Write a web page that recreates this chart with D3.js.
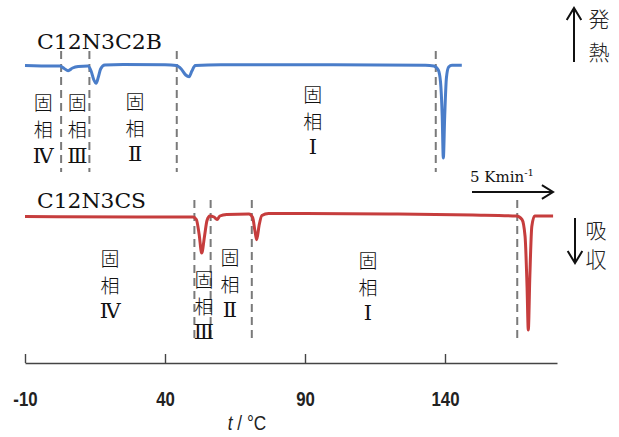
<!DOCTYPE html>
<html>
<head>
<meta charset="utf-8">
<script src="https://cdn.jsdelivr.net/npm/d3@7"></script>
<style>
  body { margin: 0; background: #fff; }
  svg { display: block; }
</style>
</head>
<body>
<svg id="chart"></svg>
<script>
const CHART_SIZE = { width: 619, height: 437 };

// DSC traces: temperature (°C) and heat flow (arb., endo down)
const blueTemps = [-10, 0, 2.5, 4, 5.4, 7, 9, 12.5, 13.6, 14.6, 15.4, 16.2, 17, 18.5, 25, 40, 44, 45.8, 47.4, 48.6, 49.6, 50.8, 60, 100, 133, 136, 137.6, 138.4, 139, 139.4, 139.9, 140.5, 141.3, 142.5, 146];
const blueFlow = [0.05, 0, 0, -0.25, -0.47, -0.2, -0.05, 0, -0.5, -1.4, -1.73, -1.1, -0.3, 0.1, 0.15, 0.12, 0.05, -0.3, -0.9, -1.07, -0.5, 0.05, 0.12, 0.12, 0.08, 0.0, -0.4, -1.6, -5, -9.2, -5, -1.2, -0.1, 0.08, 0.08];

const redTemps = [-10, 30, 50, 51.2, 52.2, 53.1, 54.1, 55, 56, 57.5, 58.6, 59.6, 62, 70, 71.3, 72.1, 72.75, 73.6, 74.6, 77, 90, 120, 150, 165.5, 167.5, 168.6, 169.3, 169.75, 170.3, 171, 172, 174, 178.6];
const redFlow = [0, -0.05, -0.05, -0.3, -1.8, -3.66, -2, -0.4, 0.05, -0.05, -0.3, 0.05, 0.2, 0.25, -0.1, -1.4, -2.33, -0.9, 0.1, 0.3, 0.3, 0.25, 0.15, 0.05, -0.3, -2, -7, -11.35, -6, -1, 0.05, 0.05, 0.05];

// phase transition boundaries (°C)
const blueBounds = [2.9, 13, 44.2, 136.7];
const redBounds = [50.5, 56.3, 71, 165.8];

// phase labels: numeral, temperature of the label, heat-flow level of its top
const blueLabelNums = ["Ⅳ", "Ⅲ", "Ⅱ", "Ⅰ"];
const blueLabelTemps = [-3.5, 8.7, 29.3, 92.8];
const blueLabelLevels = [-3.57, -3.57, -3.4, -2.73];
const redLabelNums = ["Ⅳ", "Ⅲ", "Ⅱ", "Ⅰ"];
const redLabelTemps = [20.4, 53.9, 63.2, 112.5];
const redLabelLevels = [-4.08, -6.18, -3.95, -4.25];

const xTicks = [-10, 40, 90, 140];

const BLUE = "#4a7dc9";
const RED = "#c63d3d";
const SERIF = "'DejaVu Serif', 'Liberation Serif', serif";
const CJK = "'Noto Sans CJK JP', sans-serif";
const SANS = "'Liberation Sans', Arial, sans-serif";

const svg = d3.select("#chart")
  .attr("width", CHART_SIZE.width)
  .attr("height", CHART_SIZE.height);

const x = d3.scaleLinear().domain([-10, 180]).range([25, 557]);
const yBlue = d3.scaleLinear().domain([0, -10]).range([66, 166]);
const yRed = d3.scaleLinear().domain([0, -10]).range([216.5, 316.5]);

// x axis with ticks pointing up
const xAxis = d3.axisBottom(x)
  .tickValues(xTicks)
  .tickSizeInner(-9)
  .tickSizeOuter(0)
  .tickFormat(d => String(d));

const axisG = svg.append("g")
  .attr("transform", "translate(0,363)")
  .call(xAxis);

axisG.select(".domain").attr("stroke", "#444").attr("stroke-width", 1.6);
axisG.selectAll(".tick line").attr("stroke", "#444").attr("stroke-width", 1.4);
// narrow look: squeeze the labels horizontally
axisG.selectAll(".tick text")
  .attr("y", 43)
  .attr("dy", 0)
  .attr("transform", "scale(0.8,1)")
  .attr("fill", "#222")
  .style("font-family", SANS)
  .style("font-weight", "bold")
  .style("font-size", "21px");

const xLabel = svg.append("text")
  .attr("transform", "translate(247,430) scale(0.82,1)")
  .attr("text-anchor", "middle")
  .attr("fill", "#222")
  .style("font-family", SANS)
  .style("font-size", "21px");
xLabel.append("tspan").style("font-style", "italic").text("t");
xLabel.append("tspan").text(" / °C");

// dashed phase boundaries
const drawBounds = (bounds, y, top, bottom) => {
  svg.append("g")
    .selectAll("line")
    .data(bounds)
    .enter()
    .append("line")
    .attr("x1", d => x(d))
    .attr("x2", d => x(d))
    .attr("y1", y(top))
    .attr("y2", y(bottom))
    .attr("stroke", "#7a7a7a")
    .attr("stroke-width", 2)
    .attr("stroke-dasharray", "8,5");
};

drawBounds(blueBounds, yBlue, 1.5, -10.6);
drawBounds(redBounds, yRed, 1.65, -12.3);

// traces
const drawTrace = (temps, flow, y, color) => {
  const line = d3.line()
    .x(i => x(temps[i]))
    .y(i => y(flow[i]))
    .curve(d3.curveMonotoneX);
  svg.append("path")
    .datum(d3.range(temps.length))
    .attr("d", line)
    .attr("fill", "none")
    .attr("stroke", color)
    .attr("stroke-width", 3)
    .attr("stroke-linejoin", "round");
};

drawTrace(blueTemps, blueFlow, yBlue, BLUE);
drawTrace(redTemps, redFlow, yRed, RED);

// phase labels, stacked vertically
const drawLabels = (nums, temps, levels, y) => {
  nums.forEach((num, i) => {
    const g = svg.append("g")
      .attr("transform", `translate(${x(temps[i])},${y(levels[i])})`);
    ["固", "相"].forEach((ch, k) => {
      g.append("text")
        .attr("y", k * 27)
        .attr("text-anchor", "middle")
        .attr("dominant-baseline", "central")
        .attr("fill", "#111")
        .style("font-family", CJK)
        .style("font-weight", 300)
        .style("font-size", "19px")
        .text(ch);
    });
    g.append("text")
      .attr("y", 2 * 27)
      .attr("text-anchor", "middle")
      .attr("dominant-baseline", "central")
      .attr("fill", "#111")
      .style("font-family", "'Liberation Serif', 'DejaVu Serif', serif")
      .style("font-size", "21px")
      .text(num);
  });
};

drawLabels(blueLabelNums, blueLabelTemps, blueLabelLevels, yBlue);
drawLabels(redLabelNums, redLabelTemps, redLabelLevels, yRed);

// sample names
svg.append("text")
  .attr("x", 37).attr("y", 48.5)
  .attr("textLength", 125).attr("lengthAdjust", "spacingAndGlyphs")
  .attr("fill", "#111")
  .style("font-family", SERIF).style("font-size", "20px")
  .text("C12N3C2B");

svg.append("text")
  .attr("x", 37).attr("y", 208)
  .attr("textLength", 109).attr("lengthAdjust", "spacingAndGlyphs")
  .attr("fill", "#111")
  .style("font-family", SERIF).style("font-size", "20px")
  .text("C12N3CS");

// heating rate arrow
const rate = svg.append("text")
  .attr("x", 470).attr("y", 182)
  .attr("fill", "#111")
  .style("font-family", SERIF).style("font-size", "15px");
rate.append("tspan").text("5 Kmin");
rate.append("tspan").attr("dy", -6).style("font-size", "10px").text("-1");

const arrow = (x1, y1, x2, y2, head) => {
  const a = Math.atan2(y2 - y1, x2 - x1);
  const h1 = [x2 - head * Math.cos(a - 0.55), y2 - head * Math.sin(a - 0.55)];
  const h2 = [x2 - head * Math.cos(a + 0.55), y2 - head * Math.sin(a + 0.55)];
  svg.append("path")
    .attr("d", `M${x1},${y1}L${x2},${y2}M${h1[0]},${h1[1]}L${x2},${y2}L${h2[0]},${h2[1]}`)
    .attr("fill", "none")
    .attr("stroke", "#111")
    .attr("stroke-width", 2)
    .attr("stroke-linejoin", "miter");
};

arrow(472, 192, 553, 192, 13);
arrow(574, 62, 574, 8, 14);
arrow(575, 218, 575, 263, 14);

// exo / endo labels
const side = [["発", 599, 18], ["熱", 599, 51], ["吸", 596, 229], ["収", 596, 258]];
side.forEach(([ch, cx, cy]) => {
  svg.append("text")
    .attr("x", cx).attr("y", cy)
    .attr("text-anchor", "middle")
    .attr("dominant-baseline", "central")
    .attr("fill", "#222")
    .style("font-family", CJK)
    .style("font-weight", 300)
    .style("font-size", "21px")
    .text(ch);
});
</script>
</body>
</html>
